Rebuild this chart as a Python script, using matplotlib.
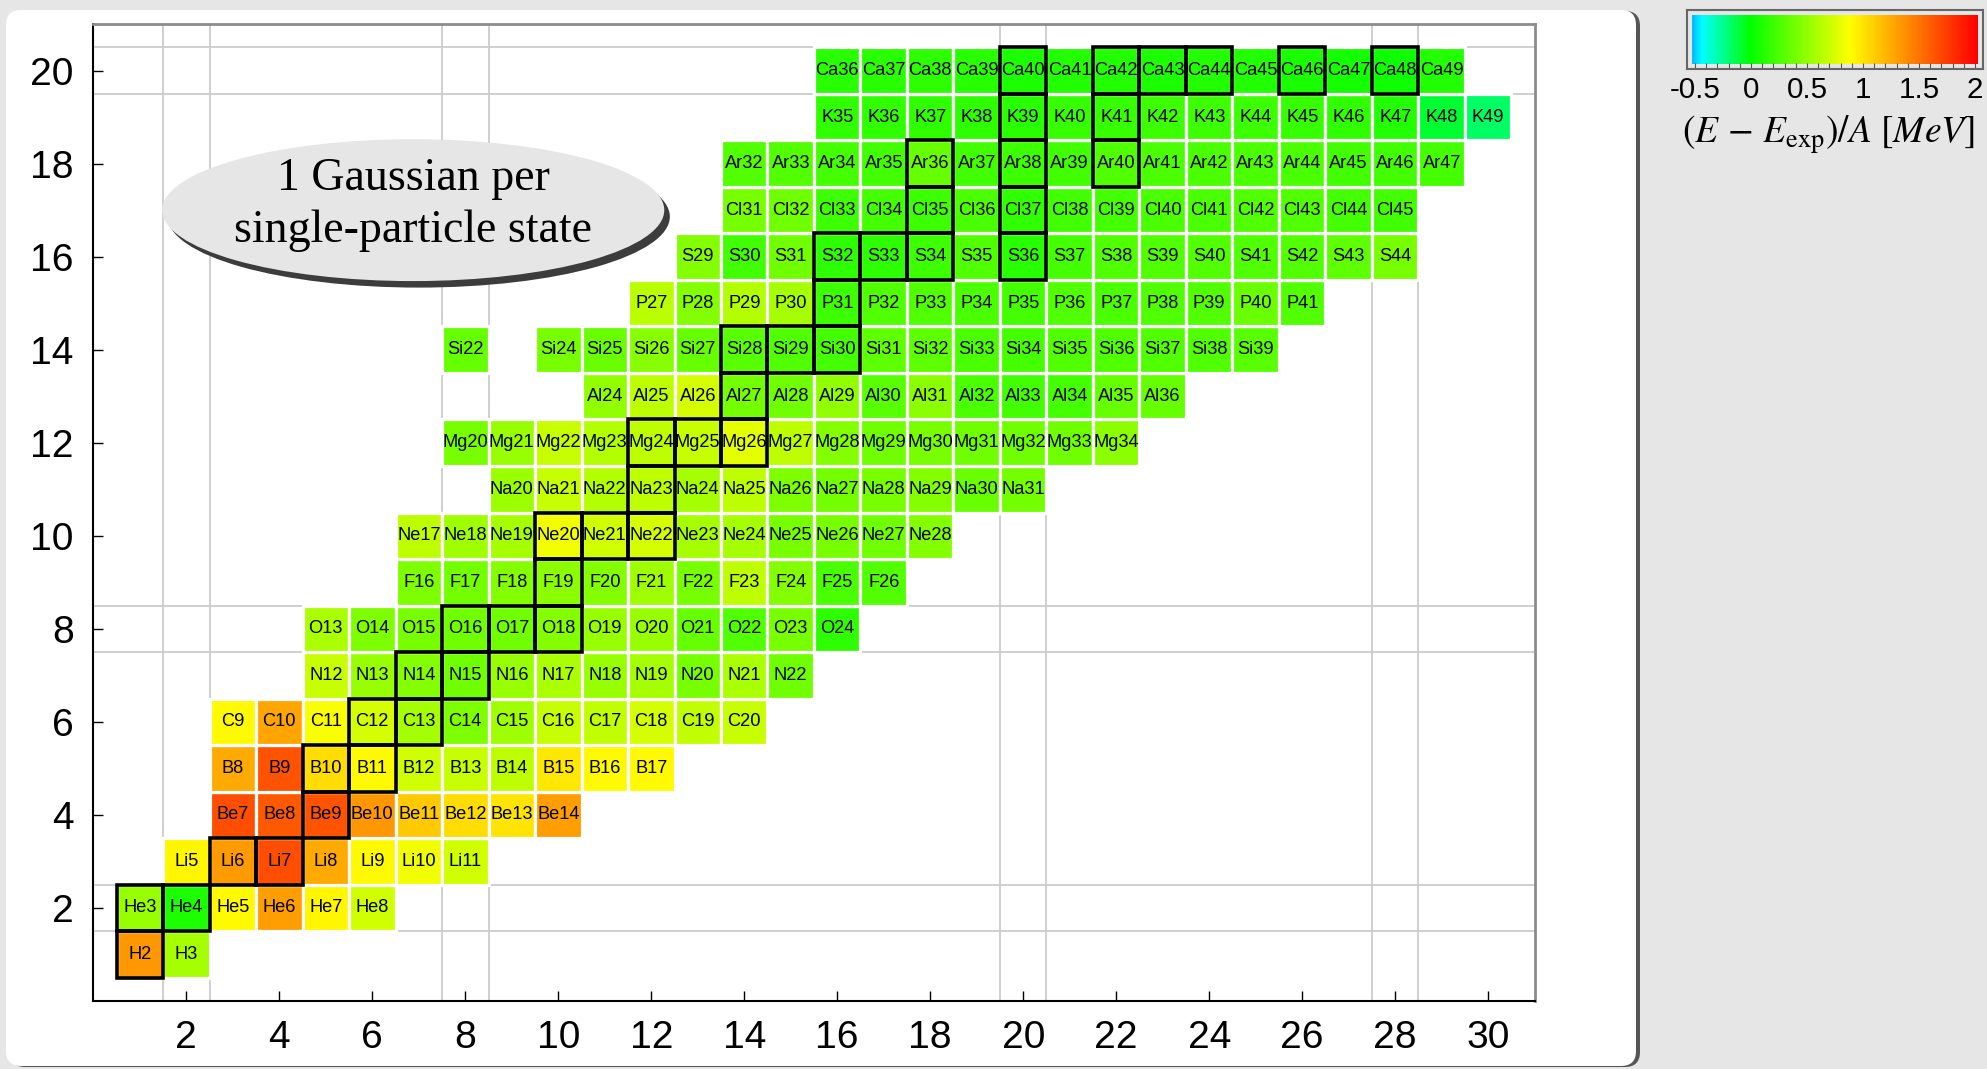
import matplotlib.pyplot as plt
import numpy as np
from matplotlib import font_manager
from matplotlib.colors import LinearSegmentedColormap, Normalize
from matplotlib.patches import Ellipse, FancyBboxPatch, Rectangle

# (E - E_exp)/A in MeV; one list per element, index 0 = first N
elements = ["H", "He", "Li", "Be", "B", "C", "N", "O", "F", "Ne",
            "Na", "Mg", "Al", "Si", "P", "S", "Cl", "Ar", "K", "Ca"]
first_n = [1, 1, 2, 3, 3, 3, 5, 5, 7, 7, 9, 8, 11, 8, 12, 13, 14, 14, 16, 16]

dev_H = [1.33, 0.57]
dev_He = [0.52, 0.10, 0.90, 1.30, 0.92, 0.72]
dev_Li = [0.92, 1.32, 1.65, 1.25, 0.90, 0.83, 0.72]
dev_Be = [1.65, 1.60, 1.63, 1.33, 1.12, 1.03, 1.00, 1.30]
dev_B = [1.25, 1.63, 1.03, 0.90, 0.72, 0.69, 0.66, 0.98, 0.90, 0.90]
dev_C = [0.90, 1.27, 0.86, 0.74, 0.57, 0.43, 0.55, 0.69, 0.67, 0.74, 0.67, 0.69]
dev_N = [0.69, 0.52, 0.45, 0.38, 0.52, 0.59, 0.52, 0.57, 0.41, 0.59, 0.38]
dev_O = [0.59, 0.43, 0.41, 0.38, 0.38, 0.45, 0.52, 0.52, 0.35, 0.28, 0.41, 0.16]
dev_F = [0.43, 0.40, 0.45, 0.48, 0.45, 0.55, 0.41, 0.66, 0.45, 0.26, 0.29]
dev_Ne = [0.66, 0.55, 0.57, 0.83, 0.72, 0.74, 0.57, 0.57, 0.41, 0.41, 0.38, 0.45]
dev_Na = [0.54, 0.69, 0.62, 0.66, 0.57, 0.66, 0.43, 0.40, 0.41, 0.45, 0.36, 0.40]
dev_Mg = [0.41, 0.52, 0.69, 0.62, 0.66, 0.69, 0.78, 0.66, 0.45, 0.38, 0.41, 0.38,
          0.38, 0.38, 0.48]
dev_Al = [0.50, 0.66, 0.74, 0.40, 0.38, 0.50, 0.31, 0.48, 0.26, 0.23, 0.24, 0.35, 0.35]
dev_Si = [0.35, np.nan, 0.41, 0.36, 0.47, 0.35, 0.31, 0.28, 0.24, 0.33, 0.33, 0.26,
          0.24, 0.28, 0.28, 0.28, 0.28, 0.31]
dev_P = [0.64, 0.45, 0.62, 0.57, 0.21, 0.28, 0.28, 0.26, 0.24, 0.28, 0.26, 0.28,
         0.29, 0.36, 0.29]
dev_S = [0.45, 0.23, 0.38, 0.16, 0.16, 0.21, 0.28, 0.14, 0.24, 0.28, 0.28, 0.29,
         0.28, 0.29, 0.33, 0.41]
dev_Cl = [0.41, 0.38, 0.21, 0.24, 0.21, 0.26, 0.17, 0.23, 0.24, 0.26, 0.26, 0.28,
          0.28, 0.24, 0.23]
dev_Ar = [0.29, 0.29, 0.24, 0.23, 0.35, 0.23, 0.21, 0.23, 0.28, 0.26, 0.26, 0.26,
          0.26, 0.23, 0.23, 0.24]
dev_K = [0.17, 0.17, 0.17, 0.16, 0.14, 0.19, 0.19, 0.21, 0.21, 0.21, 0.19, 0.17,
         0.12, -0.08, -0.16]
dev_Ca = [0.14, 0.14, 0.16, 0.14, 0.10, 0.12, 0.12, 0.10, 0.12, 0.12, 0.09, 0.07,
          0.05, 0.12]
deviations = [dev_H, dev_He, dev_Li, dev_Be, dev_B, dev_C, dev_N, dev_O, dev_F, dev_Ne,
              dev_Na, dev_Mg, dev_Al, dev_Si, dev_P, dev_S, dev_Cl, dev_Ar, dev_K, dev_Ca]

stable = ["H2", "He3", "He4", "Li6", "Li7", "Be9", "B10", "B11", "C12", "C13",
          "N14", "N15", "O16", "O17", "O18", "F19", "Ne20", "Ne21", "Ne22", "Na23",
          "Mg24", "Mg25", "Mg26", "Al27", "Si28", "Si29", "Si30", "P31", "S32",
          "S33", "S34", "S36", "Cl35", "Cl37", "Ar36", "Ar38", "Ar40", "K39", "K41",
          "Ca40", "Ca42", "Ca43", "Ca44", "Ca46", "Ca48"]
magic_z = [2, 8, 20]
magic_n = [2, 8, 20, 28]

installed = {f.name for f in font_manager.fontManager.ttflist}
if "Liberation Sans Narrow" in installed:
    sans, k = "Liberation Sans Narrow", 1.0
else:
    sans, k = "Liberation Sans", 0.85
plt.rcParams["mathtext.fontset"] = "stix"

vmin, vmax = -0.5, 2.0
nodes = [(-0.5, (0.0, 0.75, 1.0)), (-0.42, (0.0, 1.0, 1.0)), (0.0, (0.0, 1.0, 0.0)),
         (0.88, (1.0, 1.0, 0.0)), (2.0, (1.0, 0.0, 0.0))]
cmap = LinearSegmentedColormap.from_list(
    "dev", [((v - vmin) / (vmax - vmin), c) for v, c in nodes])
norm = Normalize(vmin, vmax)

fig = plt.figure(figsize=(19.87, 10.69), dpi=100, facecolor="#e6e6e6")

# white rounded panel with a dark edge on its right
fig.patches.append(FancyBboxPatch((0.10, 0.02), 16.30, 10.56,
                                  boxstyle="round,pad=0,rounding_size=0.15",
                                  transform=fig.dpi_scale_trans, facecolor="#555555",
                                  edgecolor="none", zorder=-2))
fig.patches.append(FancyBboxPatch((0.06, 0.03), 16.30, 10.56,
                                  boxstyle="round,pad=0,rounding_size=0.15",
                                  transform=fig.dpi_scale_trans, facecolor="white",
                                  edgecolor="none", zorder=-1))

ax = fig.add_axes([0.04696, 0.0636, 0.7254, 0.9139], facecolor="white")
ax.set_xlim(0, 31)
ax.set_ylim(0, 21)

for m in magic_z:
    for off in (-0.5, 0.5):
        ax.axhline(m + off, color="#cccccc", lw=1.3, zorder=1)
for m in magic_n:
    for off in (-0.5, 0.5):
        ax.axvline(m + off, color="#cccccc", lw=1.3, zorder=1)

for z, (el, n0, vals) in enumerate(zip(elements, first_n, deviations), start=1):
    for i, v in enumerate(vals):
        if np.isnan(v):
            continue
        n = n0 + i
        name = f"{el}{z + n}"
        ax.add_patch(Rectangle((n - 0.5, z - 0.5), 1, 1, facecolor=cmap(norm(v)),
                               edgecolor="white", lw=2.3, zorder=2))
        if name in stable:
            ax.add_patch(Rectangle((n - 0.5, z - 0.5), 1, 1, facecolor="none",
                                   edgecolor="black", lw=2.6, zorder=3))
        ax.text(n, z, name, ha="center", va="center", fontsize=15.5 * k,
                family=sans, zorder=4)

# label bubble
ax.add_patch(Ellipse((7.0, 16.86), 10.8, 3.05, facecolor="#3c3c3c", edgecolor="none",
                     zorder=5))
ax.add_patch(Ellipse((6.88, 17.0), 10.8, 3.05, facecolor="#e6e6e6", edgecolor="none",
                     zorder=6))
ax.text(6.88, 17.12, "1 Gaussian per\nsingle-particle state", ha="center", va="center",
        fontsize=33, family="Liberation Serif", linespacing=1.3, zorder=7)

ax.set_xticks(range(2, 31, 2))
ax.set_yticks(range(2, 21, 2))
ax.tick_params(direction="in", length=7, width=1, labelsize=33 * k, pad=14)
for lab in ax.get_xticklabels() + ax.get_yticklabels():
    lab.set_family(sans)
for side in ("left", "bottom"):
    ax.spines[side].set_linewidth(1.5)
for side in ("top", "right"):
    ax.spines[side].set_color("#8c8c8c")
    ax.spines[side].set_linewidth(2)

# colour scale
cax = fig.add_axes([0.849, 0.9355, 0.149, 0.0552], facecolor="#e6e6e6")
cax.imshow(np.linspace(vmin, vmax, 300)[None, :], cmap=cmap, norm=norm, aspect="auto",
           extent=[-0.527, 2.018, 0.085, 0.915], interpolation="bilinear")
cax.set_xlim(-0.571, 2.071)
cax.set_ylim(0, 1)
cax.set_yticks([])
cax.set_xticks([-0.5, 0, 0.5, 1, 1.5, 2])
cax.set_xticklabels(["-0.5", "0", "0.5", "1", "1.5", "2"], family=sans)
cax.set_xticks(np.arange(-0.5, 2.01, 0.1), minor=True)
cax.tick_params(which="both", direction="in", length=4, width=0.8, color="#555555",
                labelsize=25 * k, pad=5)
for s in cax.spines.values():
    s.set_color("#666666")
    s.set_linewidth(1.5)
fig.text(0.92, 0.874, r"$(E\,-\,E_{\rm exp})/A\ [MeV]$", ha="center", va="center",
         fontsize=27)

fig.savefig("out.png", dpi=100, facecolor=fig.get_facecolor())
